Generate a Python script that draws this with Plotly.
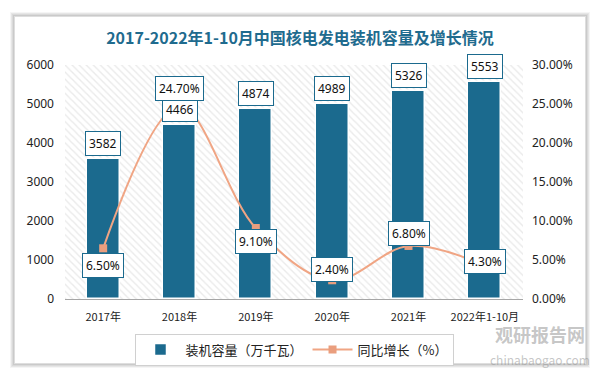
import plotly.graph_objects as go

categories = ["2017年", "2018年", "2019年", "2020年", "2021年", "2022年1-10月"]
capacity = [3582, 4466, 4874, 4989, 5326, 5553]
growth = [6.50, 24.70, 9.10, 2.40, 6.80, 4.30]
growth_label_shift = [-17, 18, -13, 11, 12, 4]
y_max = 6000
y2_max = 30

bar_color = "#1B6A8E"
line_color = "#F0A584"
font_num = "Noto Sans, DejaVu Sans, sans-serif"
font_cjk = "Noto Sans CJK SC, sans-serif"

W, H = 600, 381
ML, MR, MT, MB = 65, 77, 65, 82

fig = go.Figure()

# hatched background
fig.add_trace(go.Bar(
    x=categories, y=[y_max] * len(categories), width=1.0,
    marker=dict(color="white", line=dict(width=0),
                pattern=dict(shape="\\", fgcolor="#d6d6d6", bgcolor="white", size=5, solidity=0.28)),
    hoverinfo="skip", showlegend=False,
))

fig.add_trace(go.Bar(
    x=categories, y=capacity, width=0.43, name="装机容量（万千瓦）",
    marker=dict(color=bar_color, line=dict(color="white", width=1.5)),
))

fig.add_trace(go.Scatter(
    x=categories, y=growth, yaxis="y2", name="同比增长（%）",
    mode="lines+markers", line=dict(color=line_color, width=2, shape="spline", smoothing=1.0),
    marker=dict(symbol="square", size=8, color="#EA9E7E"),
))


def px_x(px):
    return (px - ML) / (W - ML - MR)


def px_y(py):
    return (H - MB - py) / (H - MT - MB)


annotations = []
for c, v in zip(categories, capacity):
    annotations.append(dict(
        x=c, y=v, xref="x", yref="y", text=str(v), showarrow=False,
        yanchor="bottom", yshift=3, bgcolor="white", bordercolor=bar_color,
        borderwidth=1, borderpad=3, font=dict(family=font_num, size=12, color="#111"),
    ))
for c, g, s in zip(categories, growth, growth_label_shift):
    annotations.append(dict(
        x=c, y=g, xref="x", yref="y2", text=f"{g:.2f}%", showarrow=False,
        yanchor="middle", yshift=s, bgcolor="white", bordercolor=bar_color,
        borderwidth=1, borderpad=3, font=dict(family=font_num, size=12, color="#111"),
    ))
# watermark (single text block)
annotations.append(dict(x=px_x(540), y=px_y(344), xref="paper", yref="paper",
                        xanchor="center", yanchor="middle",
                        text="<b>观研报告网</b><br><span style='font-size:12px'>chinabaogao.com</span>",
                        showarrow=False,
                        font=dict(family=font_cjk, size=18, color="rgba(150,150,150,0.55)")))

# card with shadow
shapes = []
for i, op in enumerate([0.04, 0.06, 0.09, 0.13]):
    d = 4 - i
    shapes.append(dict(type="rect", xref="paper", yref="paper",
                       x0=px_x(15 - d), x1=px_x(585 + d), y0=px_y(363 + d), y1=px_y(17 - d),
                       line=dict(color=f"rgba(0,0,0,{op})", width=2), layer="below"))

fig.update_layout(
    width=W, height=H,
    margin=dict(l=ML, r=MR, t=MT, b=MB),
    paper_bgcolor="white", plot_bgcolor="white",
    barmode="overlay", bargap=0,
    title=dict(text="<b>2017-2022年1-10月中国核电发电装机容量及增长情况</b>",
               x=0.5, xanchor="center", y=1 - 38 / H, yanchor="middle",
               font=dict(family=font_cjk, size=16, color="#1F6B8E")),
    xaxis=dict(showline=True, linecolor="#a6a6a6", linewidth=1, showgrid=False,
               tickfont=dict(family=font_cjk, size=11, color="#222"), ticks="",
               ticklabelstandoff=8),
    yaxis=dict(range=[0, y_max], dtick=1000, showgrid=False, zeroline=False,
               tickfont=dict(family=font_num, size=12, color="#222"), ticklabelstandoff=10),
    yaxis2=dict(range=[0, y2_max], dtick=5, overlaying="y", side="right", showgrid=False,
                zeroline=False, ticksuffix="%", tickformat=".2f",
                tickfont=dict(family=font_num, size=12, color="#222"), ticklabelstandoff=8),
    legend=dict(orientation="h", x=0.5, xanchor="center", y=-0.148, yanchor="top",
                bordercolor="#d0d0d0", borderwidth=1,
                font=dict(family=font_cjk, size=13, color="#222"), itemwidth=40,
                traceorder="normal"),
    showlegend=True,
    annotations=annotations,
    shapes=shapes,
)

fig.write_html("out.html", config={"displayModeBar": False},
               post_script="document.body.style.margin='0';")
